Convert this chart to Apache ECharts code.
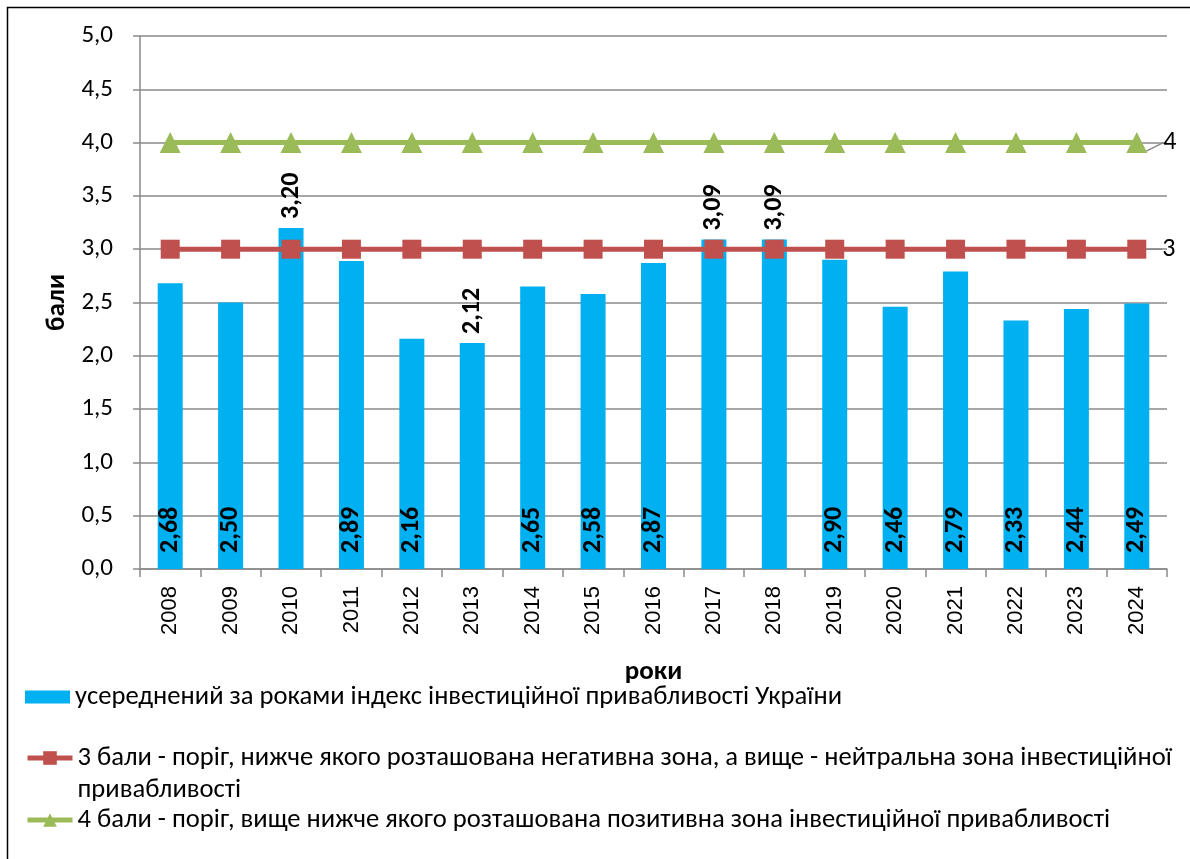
<!DOCTYPE html>
<html>
<head>
<meta charset="utf-8">
<title>Індекс інвестиційної привабливості України</title>
<script src="https://cdn.jsdelivr.net/npm/echarts@6/dist/echarts.min.js"></script>
<style>
  html, body { margin: 0; padding: 0; background: #fff; }
  #chart1 { width: 1190px; height: 859px; }
</style>
</head>
<body>
<div id="chart1"></div>
<script>
// роки
const years = ['2008', '2009', '2010', '2011', '2012', '2013', '2014', '2015', '2016',
  '2017', '2018', '2019', '2020', '2021', '2022', '2023', '2024'];
// усереднений індекс
const indexValues = [2.68, 2.50, 3.20, 2.89, 2.16, 2.12, 2.65, 2.58, 2.87,
  3.09, 3.09, 2.90, 2.46, 2.79, 2.33, 2.44, 2.49];
// пороги
const threshold3 = [3, 3, 3, 3, 3, 3, 3, 3, 3, 3, 3, 3, 3, 3, 3, 3, 3];
const threshold4 = [4, 4, 4, 4, 4, 4, 4, 4, 4, 4, 4, 4, 4, 4, 4, 4, 4];
// назви рядів
const seriesNames = [
  'усереднений за роками індекс інвестиційної привабливості України',
  '3 бали - поріг, нижче якого розташована негативна зона, а вище - нейтральна зона інвестиційної привабливості',
  '4 бали - поріг, вище нижче якого розташована позитивна зона інвестиційної привабливості'
];

const FONT = 'Carlito, Lato, sans-serif';
const GRID_COLOR = '#8a8a8a';
// роки, де підпис стоїть над стовпчиком
const labelsOnTop = ['2010', '2013', '2017', '2018'];

const comma = v => v.toFixed(2).replace('.', ',');

const chart = echarts.init(document.getElementById('chart1'));

const barData = indexValues.map((v, i) => {
  if (labelsOnTop.indexOf(years[i]) >= 0) {
    return { value: v, label: { position: 'top', distance: 9 } };
  }
  return v;
});

// підпис лише на останній точці лінії
const lastLabel = (arr) => arr.map((v, i) => i === arr.length - 1
  ? { value: v, label: { show: true } }
  : v);

const legendText = { fontFamily: FONT, fontSize: 26.6, color: '#000', lineHeight: 32 };

chart.setOption({
  animation: false,
  textStyle: { fontFamily: FONT },
  graphic: [{
    type: 'rect',
    shape: { x: 7.5, y: 7.5, width: 1250, height: 900 },
    style: { fill: 'none', stroke: '#000', lineWidth: 1.5 },
    silent: true
  }],
  grid: {
    left: 140,
    right: 23,
    top: 36,
    bottom: 290
  },
  legend: [
    {
      data: [{ name: seriesNames[0], icon: 'rect' }],
      left: 25, top: 681, padding: 0,
      itemWidth: 45, itemHeight: 13,
      textStyle: legendText
    },
    {
      data: [seriesNames[1]],
      left: 25, top: 710, padding: 0,
      itemWidth: 45, itemHeight: 17,
      lineStyle: { width: 5 },
      // порожній перший рядок, щоб перший рядок тексту стояв на рівні значка
      formatter: () => '\n3 бали - поріг, нижче якого розташована негативна зона, а вище - нейтральна зона інвестиційної\nпривабливості',
      textStyle: legendText
    },
    {
      data: [seriesNames[2]],
      left: 25, top: 804, padding: 0,
      itemWidth: 45, itemHeight: 17,
      lineStyle: { width: 5 },
      textStyle: legendText
    }
  ],
  xAxis: {
    type: 'category',
    data: years,
    name: 'роки',
    nameLocation: 'middle',
    nameGap: 90,
    nameTextStyle: { fontFamily: FONT, fontSize: 27, fontWeight: 'bold', color: '#000' },
    axisLine: { lineStyle: { color: GRID_COLOR, width: 1.5 } },
    axisTick: { show: true, length: 8, lineStyle: { color: GRID_COLOR, width: 1.5 } },
    axisLabel: {
      rotate: 90,
      margin: 17,
      color: '#000',
      fontFamily: '"Liberation Sans", Arial, sans-serif',
      fontSize: 22
    }
  },
  yAxis: {
    type: 'value',
    min: 0,
    max: 5,
    interval: 0.5,
    name: 'бали',
    nameLocation: 'middle',
    nameGap: 68,
    nameTextStyle: { fontFamily: FONT, fontSize: 27, fontWeight: 'bold', color: '#000' },
    axisLine: { show: true, lineStyle: { color: GRID_COLOR, width: 1.5 } },
    axisTick: { show: true, length: 7, lineStyle: { color: GRID_COLOR, width: 1.5 } },
    splitLine: { lineStyle: { color: GRID_COLOR, width: 1.5 } },
    axisLabel: {
      margin: 27,
      color: '#000',
      fontFamily: FONT,
      fontSize: 25,
      formatter: v => v.toFixed(1).replace('.', ',')
    }
  },
  series: [
    {
      name: seriesNames[0],
      type: 'bar',
      data: barData,
      barWidth: 25,
      itemStyle: { color: '#00B0F0' },
      label: {
        show: true,
        position: 'insideBottom',
        distance: 16,
        rotate: 90,
        align: 'left',
        verticalAlign: 'middle',
        color: '#000',
        fontFamily: FONT,
        fontWeight: 'bold',
        fontSize: 26,
        formatter: p => comma(p.value)
      },
      z: 2
    },
    {
      name: seriesNames[1],
      type: 'line',
      data: lastLabel(threshold3),
      symbol: 'rect',
      symbolSize: 19,
      itemStyle: { color: '#C0504D' },
      lineStyle: { color: '#C0504D', width: 5 },
      label: {
        show: false,
        position: 'right',
        distance: 4,
        color: '#000',
        fontFamily: FONT,
        fontSize: 26,
        formatter: p => String(p.value)
      },
      labelLayout: { dx: 12 },
      labelLine: { show: true, lineStyle: { color: GRID_COLOR, width: 1.5 } },
      z: 3
    },
    {
      name: seriesNames[2],
      type: 'line',
      data: lastLabel(threshold4),
      symbol: 'triangle',
      symbolSize: 21,
      itemStyle: { color: '#9BBB59' },
      lineStyle: { color: '#9BBB59', width: 5 },
      label: {
        show: false,
        position: 'right',
        distance: 4,
        color: '#000',
        fontFamily: FONT,
        fontSize: 26,
        formatter: p => String(p.value)
      },
      labelLayout: { dx: 12 },
      labelLine: { show: true, lineStyle: { color: GRID_COLOR, width: 1.5 } },
      z: 3
    }
  ]
});
</script>
</body>
</html>
